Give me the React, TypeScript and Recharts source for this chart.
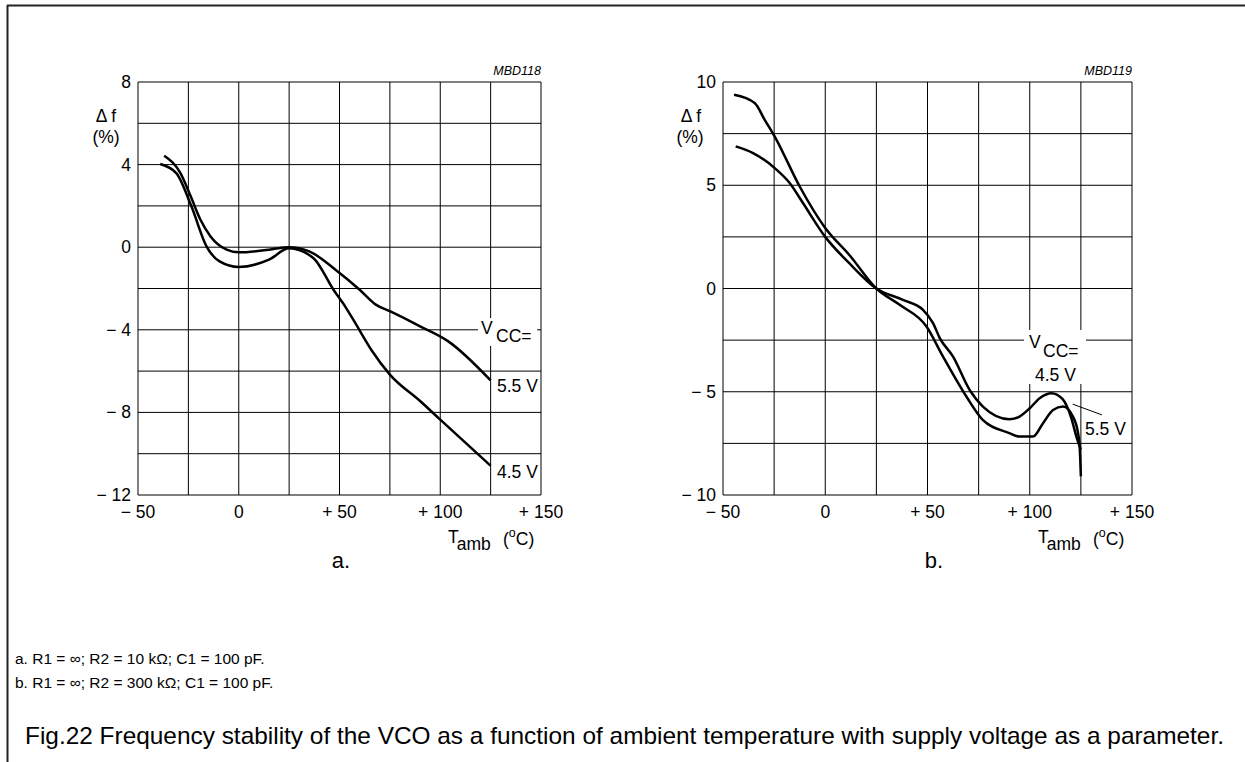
import React from 'react';
import {
  LineChart,
  Line,
  XAxis,
  YAxis,
  CartesianGrid,
  ReferenceLine
} from 'recharts';

const FONT = '"Liberation Sans", Arial, Helvetica, sans-serif';

// temperature axis (shared)
const xTicks = [-50, -25, 0, 25, 50, 75, 100, 125, 150];
const xTickLabels = ['\u2212 50', '', '0', '', '+ 50', '', '+ 100', '', '+ 150'];

// chart a: R2 = 10 kOhm
const yTicksA = [-12, -10, -8, -6, -4, -2, 0, 2, 4, 6, 8];
const yTickLabelsA = ['\u2212 12', '', '\u2212 8', '', '\u2212 4', '', '0', '', '4', '', '8'];

const tempA55 = [-37, -29, -24, -19, -14, -6, 0, 15, 25, 35, 48, 60, 68, 75, 90, 104, 125];
const dfA55 = [4.43, 3.6, 2.5, 1.33, 0.52, -0.12, -0.25, -0.12, 0, -0.2, -1.09, -2.06, -2.78, -3.1, -3.83, -4.56, -6.45];

const tempA45 = [-39, -31, -23.5, -16, -9.5, 0, 15, 25, 37, 47, 53, 58, 66, 75, 90, 100, 125];
const dfA45 = [4.03, 3.59, 1.98, 0.04, -0.69, -0.96, -0.6, -0.05, -0.52, -2.06, -2.9, -3.7, -5.0, -6.17, -7.45, -8.35, -10.58];

// chart b: R2 = 300 kOhm
const yTicksB = [-10, -7.5, -5, -2.5, 0, 2.5, 5, 7.5, 10];
const yTickLabelsB = ['\u2212 10', '', '\u2212 5', '', '0', '', '5', '', '10'];

const tempB55 = [-44.6, -34.5, -29.6, -24.7, -12.5, 0, 12, 25, 36.4, 49.5, 57.6, 69, 77, 90, 95, 101.6, 106.5, 111.4, 116.3, 121.1, 123.6, 124.4, 125];
const dfB55 = [9.38, 8.98, 8.17, 7.36, 4.94, 2.93, 1.6, 0, -0.79, -1.84, -3.3, -5.23, -6.36, -7.0, -7.17, -7.17, -6.52, -5.88, -5.72, -6.2, -7.0, -7.62, -9.1];

const tempB45 = [-43.8, -35.3, -24.7, -17.4, -10.9, 0, 12, 25, 38, 47.8, 52.7, 56, 62.5, 70.6, 77.1, 90, 95, 100, 105, 110.6, 116, 120.4, 122.8, 125];
const dfB45 = [6.88, 6.56, 5.83, 5.11, 4.14, 2.5, 1.2, 0, -0.55, -1.03, -1.68, -2.4, -3.3, -4.91, -5.72, -6.33, -6.2, -5.8, -5.3, -5.07, -5.35, -6.3, -7.17, -7.8];

const toPoints = (t: number[], v: number[]) => t.map((x, i) => ({ t: x, v: v[i] }));

const textStyle = { fontFamily: FONT, fontSize: 17.5, fill: '#000' };

const makeXTick = (ticks: number[], labels: string[]) => (props: any) => {
  const { x, y, payload } = props;
  const s = labels[ticks.indexOf(payload.value)];
  if (!s) return <g />;
  return (
    <text x={x} y={y + 23} textAnchor="middle" style={textStyle}>
      {s}
    </text>
  );
};

const makeYTick = (ticks: number[], labels: string[]) => (props: any) => {
  const { x, y, payload } = props;
  const s = labels[ticks.indexOf(payload.value)];
  if (!s) return <g />;
  return (
    <text x={x - 7} y={y + 6} textAnchor="end" style={textStyle}>
      {s}
    </text>
  );
};

interface PanelProps {
  left: number;
  yAxisWidth: number;
  marginRight: number;
  yTicks: number[];
  yLabels: string[];
  lowData: { t: number; v: number }[];
  highData: { t: number; v: number }[];
  children?: React.ReactNode;
}

const Panel: React.FC<PanelProps> = ({ left, yAxisWidth, marginRight, yTicks, yLabels, lowData, highData, children }) => (
  <div style={{ position: 'absolute', left, top: 60 }}>
    <LineChart width={520} height={480} margin={{ top: 22, right: marginRight, bottom: 15, left: 0 }}>
      <CartesianGrid stroke="#000" strokeWidth={1} />
      <XAxis
        dataKey="t"
        type="number"
        domain={[-50, 150]}
        ticks={xTicks}
        interval={0}
        axisLine={false}
        tickLine={false}
        tickSize={0}
        tickMargin={0}
        height={30}
        tick={makeXTick(xTicks, xTickLabels)}
      />
      <YAxis
        type="number"
        domain={[yTicks[0], yTicks[yTicks.length - 1]]}
        ticks={yTicks}
        interval={0}
        axisLine={false}
        tickLine={false}
        tickSize={0}
        tickMargin={0}
        width={yAxisWidth}
        tick={makeYTick(yTicks, yLabels)}
      />
      <Line data={lowData} dataKey="v" type="monotone" stroke="#000" strokeWidth={2.5} dot={false} isAnimationActive={false} />
      <Line data={highData} dataKey="v" type="monotone" stroke="#000" strokeWidth={2.5} dot={false} isAnimationActive={false} />
      {children}
    </LineChart>
  </div>
);

const Overlay: React.FC = () => (
  <svg width={1245} height={762} style={{ position: 'absolute', left: 0, top: 0, pointerEvents: 'none' }}>
    {/* page frame */}
    <line x1={7} y1={5.5} x2={1245} y2={5.5} stroke="#222" strokeWidth={2} />
    <line x1={7.5} y1={5} x2={7.5} y2={762} stroke="#222" strokeWidth={2} />

    <g style={textStyle}>
      {/* chart a */}
      <text x={541} y={75} textAnchor="end" fontStyle="italic" fontSize={12.5}>MBD118</text>
      <text x={106} y={122} textAnchor="middle">{'\u0394 f'}</text>
      <text x={106} y={143} textAnchor="middle">(%)</text>
      <rect x={478} y={318} width={59} height={28} fill="#fff" />
      <text x={481} y={334}>V</text>
      <text x={496} y={342}>CC=</text>
      <text x={497} y={392}>5.5 V</text>
      <text x={497} y={478}>4.5 V</text>
      <text x={448} y={543}>T<tspan dy={7}>amb</tspan></text>
      <text x={503} y={545}>(<tspan dy={-8} fontSize={12.5}>o</tspan><tspan dy={8}>C)</tspan></text>
      <text x={341} y={568} textAnchor="middle" fontSize={22}>a.</text>

      {/* chart b */}
      <text x={1132} y={75} textAnchor="end" fontStyle="italic" fontSize={12.5}>MBD119</text>
      <text x={691} y={122} textAnchor="middle">{'\u0394 f'}</text>
      <text x={690} y={143} textAnchor="middle">(%)</text>
      <rect x={1024} y={330} width={62} height={54} fill="#fff" />
      <text x={1029} y={348}>V</text>
      <text x={1043} y={357}>CC=</text>
      <text x={1035} y={381}>4.5 V</text>
      <text x={1085} y={435}>5.5 V</text>
      <text x={1038} y={543}>T<tspan dy={7}>amb</tspan></text>
      <text x={1093} y={545}>(<tspan dy={-8} fontSize={12.5}>o</tspan><tspan dy={8}>C)</tspan></text>
      <text x={934} y={568} textAnchor="middle" fontSize={22}>b.</text>

      {/* notes and caption */}
      <text x={15} y={664} fontSize={15.5}>{'a. R1 = \u221E; R2 = 10 k\u03A9; C1 = 100 pF.'}</text>
      <text x={15} y={688} fontSize={15.5}>{'b. R1 = \u221E; R2 = 300 k\u03A9; C1 = 100 pF.'}</text>
      <text x={25} y={744} fontSize={24} textLength={1199} lengthAdjust="spacingAndGlyphs">
        Fig.22  Frequency stability of the VCO as a function of ambient temperature with supply voltage as a parameter.
      </text>
    </g>
  </svg>
);

const App: React.FC = () => (
  <div style={{ position: 'absolute', left: 0, top: 0, width: 1245, height: 762, background: '#fff', overflow: 'hidden' }}>
    <Panel
      left={60}
      yAxisWidth={78}
      marginRight={39}
      yTicks={yTicksA}
      yLabels={yTickLabelsA}
      lowData={toPoints(tempA45, dfA45)}
      highData={toPoints(tempA55, dfA55)}
    />
    <Panel
      left={640}
      yAxisWidth={83}
      marginRight={28}
      yTicks={yTicksB}
      yLabels={yTickLabelsB}
      lowData={toPoints(tempB45, dfB45)}
      highData={toPoints(tempB55, dfB55)}
    >
      <ReferenceLine
        segment={[{ x: 121, y: -5.6 }, { x: 135.3, y: -6.12 }]}
        stroke="#000"
        strokeWidth={1}
        ifOverflow="visible"
      />
    </Panel>
    <Overlay />
  </div>
);

export default App;
